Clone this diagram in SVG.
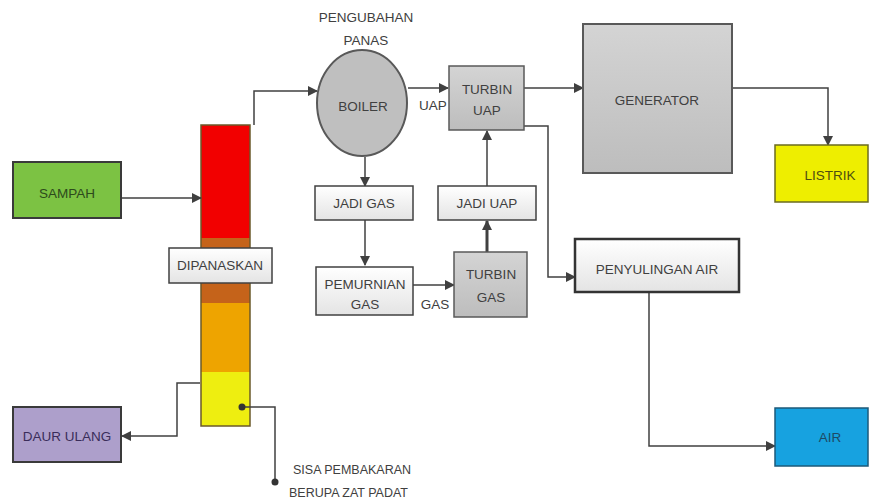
<svg xmlns="http://www.w3.org/2000/svg" width="872" height="502" viewBox="0 0 872 502">
<defs>
<marker id="ah" markerWidth="10" markerHeight="10" refX="9" refY="5" orient="auto" markerUnits="userSpaceOnUse">
<path d="M0,0 L10,5 L0,10 Z" fill="#404040"/>
</marker>
<linearGradient id="lg" x1="0" y1="0" x2="0" y2="1">
<stop offset="0" stop-color="#ffffff"/><stop offset="1" stop-color="#e4e4e4"/>
</linearGradient>
<linearGradient id="gg" x1="0" y1="0" x2="0" y2="1">
<stop offset="0" stop-color="#d4d4d4"/><stop offset="1" stop-color="#bdbdbd"/>
</linearGradient>
</defs>
<style>
text{font-family:"Liberation Sans",Arial,sans-serif;font-size:13.5px;fill:#404040;text-anchor:middle}
.box{fill:url(#lg);stroke:#404040;stroke-width:1.5}
.gray{fill:url(#gg);stroke:#595959;stroke-width:1.5}
.conn{fill:none;stroke:#404040;stroke-width:1.5}
.arr{marker-end:url(#ah)}
</style>
<rect width="872" height="502" fill="#ffffff"/>

<g id="column">
<rect x="201" y="125" width="49" height="113" fill="#f20000"/>
<rect x="201" y="238" width="49" height="65" fill="#c5631a"/>
<rect x="201" y="303" width="49" height="69" fill="#eea400"/>
<rect x="201" y="372" width="49" height="54" fill="#eeee10"/>
<rect x="201" y="125" width="49" height="301" fill="none" stroke="#6b5a2a" stroke-width="1.5"/>
</g>

<g id="connectors">
<path class="conn arr" d="M121,198 H201"/>
<path class="conn arr" d="M254,125 V91 H317"/>
<path class="conn arr" d="M408,88 H448"/>
<path class="conn arr" d="M524,88 H583"/>
<path class="conn arr" d="M732,88 H828 V145"/>
<path class="conn arr" d="M524,126 H548 V277 H575"/>
<path class="conn arr" d="M649,292 V446 H775"/>
<path class="conn arr" d="M365,157 V186"/>
<path class="conn arr" d="M365,220 V265"/>
<path class="conn arr" d="M413,285 H454"/>
<path class="conn arr" d="M487,252 V221" style="stroke-width:3"/>
<path class="conn arr" d="M487,187 V131"/>
<path class="conn arr" d="M200,383 H177 V436 H122"/>
<path class="conn" d="M242,407 H275 V482"/>
<circle cx="242" cy="407" r="3.5" fill="#333"/>
<circle cx="275" cy="482" r="3.5" fill="#333"/>
</g>

<g id="sampah">
<rect x="13" y="162" width="108" height="56" fill="#7cc243" stroke="#3a3a3a" stroke-width="2"/>
<text x="67" y="198" style="fill:#2d4a1c">SAMPAH</text>
</g>

<g id="dipanaskan">
<rect class="box" x="169" y="248" width="103" height="35"/>
<text x="220" y="270">DIPANASKAN</text>
</g>

<g id="daur-ulang">
<rect x="13" y="407" width="108" height="55" fill="#ad9fcb" stroke="#3a3a3a" stroke-width="2"/>
<text x="67" y="441" style="fill:#3a2d5a">DAUR ULANG</text>
</g>

<g id="sisa">
<text x="293" y="474" style="text-anchor:start;font-size:12.5px">SISA PEMBAKARAN</text>
<text x="289" y="497" style="text-anchor:start;font-size:12.5px">BERUPA ZAT PADAT</text>
</g>

<g id="boiler">
<text x="366" y="22">PENGUBAHAN</text>
<text x="366" y="45">PANAS</text>
<ellipse cx="362" cy="103" rx="45" ry="53" fill="#bfbfbf" stroke="#595959" stroke-width="2"/>
<text x="363" y="111">BOILER</text>
<text x="433" y="110">UAP</text>
</g>

<g id="turbin-uap">
<rect class="gray" x="449" y="66" width="75" height="64"/>
<text x="487" y="94">TURBIN</text>
<text x="487" y="115">UAP</text>
</g>

<g id="generator">
<rect x="583" y="24" width="149" height="149" fill="url(#gg)" stroke="#595959" stroke-width="2"/>
<text x="657" y="105">GENERATOR</text>
</g>

<g id="listrik">
<rect x="775" y="145" width="93" height="57" fill="#eeee00" stroke="#6b6b20" stroke-width="1.5"/>
<text x="830" y="180" style="fill:#4d4d10">LISTRIK</text>
</g>

<g id="jadi-gas">
<rect class="box" x="315" y="186" width="98" height="34"/>
<text x="364" y="208">JADI GAS</text>
</g>

<g id="jadi-uap">
<rect class="box" x="438" y="186" width="98" height="34"/>
<text x="487" y="208">JADI UAP</text>
</g>

<g id="pemurnian-gas">
<rect class="box" x="316" y="267" width="97" height="48"/>
<text x="365" y="289">PEMURNIAN</text>
<text x="365" y="309">GAS</text>
<text x="435" y="309">GAS</text>
</g>

<g id="turbin-gas">
<rect class="gray" x="454" y="252" width="73" height="65"/>
<text x="491" y="279">TURBIN</text>
<text x="491" y="302">GAS</text>
</g>

<g id="penyulingan-air">
<rect x="575" y="239" width="164" height="53" fill="url(#lg)" stroke="#333" stroke-width="2.5"/>
<text x="657" y="274">PENYULINGAN AIR</text>
</g>

<g id="air">
<rect x="775" y="408" width="93" height="58" fill="#17a2e0" stroke="#1d5a7a" stroke-width="1.5"/>
<text x="830" y="442" style="fill:#1d4a66">AIR</text>
</g>
</svg>
